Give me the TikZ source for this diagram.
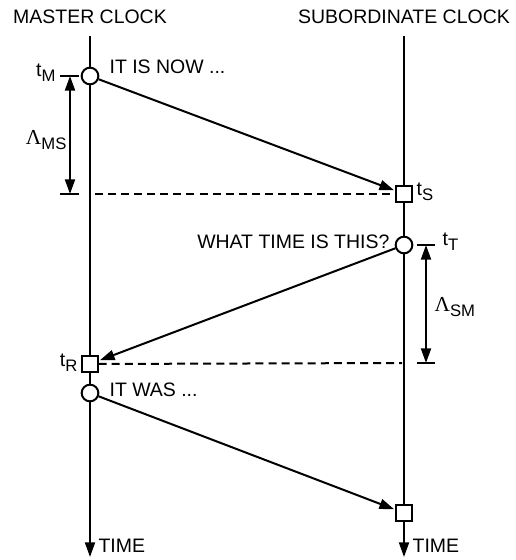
\documentclass[tikz,border=0pt]{standalone}
\usepackage{fontspec}
\setmainfont{Liberation Sans}
\newfontfamily\greekfont{Liberation Serif}
\usetikzlibrary{arrows.meta}
\newcommand{\lowidx}[1]{\raisebox{-0.5ex}{\fontsize{12.5}{13}\selectfont #1}}

\begin{document}
\begin{tikzpicture}[
    x=0.75pt,y=-0.75pt,
    lbl/.style={inner sep=1pt,font=\fontsize{14.6}{17}\selectfont},
    ring/.style={circle,draw,line width=1.5pt,fill=white,minimum size=12.5pt,inner sep=0pt},
    sqbox/.style={rectangle,draw,line width=1.5pt,fill=white,minimum size=11.5pt,inner sep=0pt},
    axis/.style={line width=1.5pt,-{Triangle[length=11pt,width=7.5pt]}},
    msg/.style={line width=1.5pt,-{Triangle[length=11pt,width=7.5pt]},shorten >=1pt},
    span/.style={line width=1.5pt,{Triangle[length=11pt,width=7.5pt]}-{Triangle[length=11pt,width=7.5pt]}},
    guide/.style={line width=1.5pt,dash pattern=on 6pt off 3.8pt},
    tickline/.style={line width=1.5pt}
  ]
    \useasboundingbox (0,0) rectangle (516,560);
    % clock headings
    \node[lbl] (mhead) at (90,17) {MASTER CLOCK};
    \node[lbl] (shead) at (404,17) {SUBORDINATE CLOCK};
    % time lines
    \coordinate (mtop) at (90,36);
    \coordinate (mend) at (90,557);
    \coordinate (stop) at (404,36);
    \coordinate (send) at (404,557);
    \draw[axis] (mtop) -- (mend);
    \draw[axis] (stop) -- (send);
    \node[lbl,anchor=west] (mtime) at (97,546) {TIME};
    \node[lbl,anchor=west] (stime) at (411,546) {TIME};
    % master -> subordinate
    \coordinate (dms) at (95,194);
    \draw[guide] (dms) -- (404,194);
    \draw[tickline] (60,76) -- (79,76);
    \draw[tickline] (60,194) -- (79,194);
    \draw[span] (70,76) -- (70,194);
    \node[ring] (tm) at (90,76) {};
    \node[sqbox] (ts) at (404,194) {};
    \draw[msg] (tm) -- (ts);
    \node[lbl,anchor=east] (tmlbl) at (57,73) {t\lowidx{M}};
    \node[lbl,anchor=east] (lms) at (68,140) {{\greekfont\fontsize{16}{17}\selectfont Λ}\lowidx{MS}};
    \node[lbl,anchor=west] (now) at (108,67) {IT IS NOW ...};
    \node[lbl,anchor=west] (tslbl) at (415,192) {t\lowidx{S}};
    % subordinate -> master
    \coordinate (dsm) at (402,363);
    \draw[tickline] (417,245) -- (435,245);
    \draw[tickline] (417,363) -- (435,363);
    \draw[span] (426,245) -- (426,363);
    \node[ring] (tt) at (404,245) {};
    \node[sqbox] (tr) at (90,364) {};
    \draw[guide] (tr) -- (dsm);
    \draw[msg] (tt) -- (tr);
    \node[lbl,anchor=east] (what) at (391,242) {WHAT TIME IS THIS?};
    \node[lbl,anchor=west] (ttlbl) at (441,242) {t\lowidx{T}};
    \node[lbl,anchor=west] (lsm) at (433,307) {{\greekfont\fontsize{16}{17}\selectfont Λ}\lowidx{SM}};
    \node[lbl,anchor=east] (trlbl) at (79,363) {t\lowidx{R}};
    % reply
    \node[ring] (tw) at (90,393) {};
    \node[sqbox] (tx) at (404,513) {};
    \draw[msg] (tw) -- (tx);
    \node[lbl,anchor=west] (was) at (108,390) {IT WAS ...};
\end{tikzpicture}
\end{document}
